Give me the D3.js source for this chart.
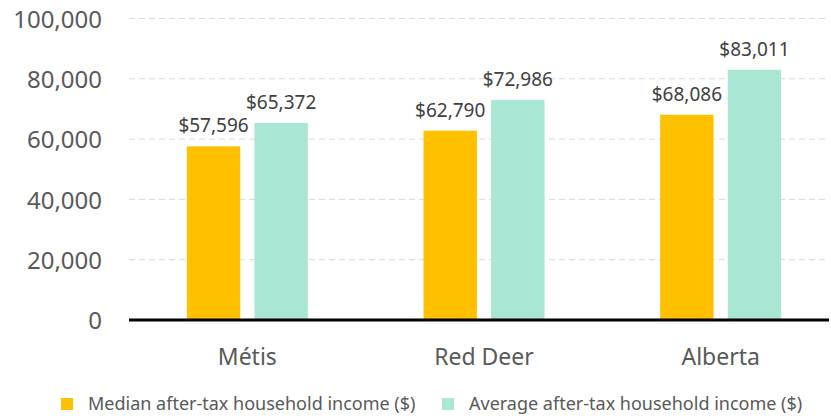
<!DOCTYPE html>
<html>
<head>
<meta charset="utf-8">
<script src="https://cdn.jsdelivr.net/npm/d3@7"></script>
<style>
  body { margin: 0; background: #fff; }
  text { font-family: "Noto Sans", "Open Sans", sans-serif; }
</style>
</head>
<body>
<div id="holder"></div>
<script>
const w = 831;
const h = 418;

// DATA
const categories = ["Métis", "Red Deer", "Alberta"];
const seriesNames = ["Median after-tax household income ($)", "Average after-tax household income ($)"];
const medianIncome = [57596, 62790, 68086];
const averageIncome = [65372, 72986, 83011];
const yTicks = [0, 20000, 40000, 60000, 80000, 100000];
const colors = ["#FFC000", "#A9E6D3"];

const svg = d3.select("#holder")
    .append("svg")
    .attr("width", w)
    .attr("height", h);

// SCALES
const xScale = d3.scaleBand()
    .domain(categories)
    .range([129, 839]);

const xSub = d3.scaleBand()
    .domain([0, 1])
    .range([0, 121])
    .paddingInner(0.21);

const yScale = d3.scaleLinear()
    .domain([0, 100000])
    .range([320, 18.5]);

// GRIDLINES
svg.append("g")
    .selectAll("line")
    .data(yTicks.filter(d => d > 0))
    .enter()
    .append("line")
    .attr("x1", 129)
    .attr("x2", 829)
    .attr("y1", d => yScale(d))
    .attr("y2", d => yScale(d))
    .attr("stroke", "#D9D9D9")
    .attr("stroke-width", 1)
    .attr("stroke-dasharray", "6,4");

// Y AXIS LABELS
const yAxis = d3.axisLeft(yScale)
    .tickValues(yTicks)
    .tickFormat(d3.format(","))
    .tickSize(0)
    .tickPadding(0);

const yG = svg.append("g")
    .attr("transform", "translate(102,0)")
    .call(yAxis);
yG.select(".domain").remove();
yG.selectAll("text")
    .attr("fill", "#595959")
    .style("font-size", "24px")
    .style("font-family", "'Noto Sans', sans-serif")
    .attr("dy", "0.36em");

// BARS
const groups = svg.selectAll(".group")
    .data(categories)
    .enter()
    .append("g")
    .attr("class", "group")
    .attr("transform", d => "translate(" + (xScale(d) + xScale.bandwidth() / 2 - 60.5) + ",0)");

const series = [medianIncome, averageIncome];

groups.each(function (cat, i) {
    const g = d3.select(this);
    series.forEach((vals, s) => {
        g.append("rect")
            .attr("x", xSub(s))
            .attr("y", yScale(vals[i]))
            .attr("width", xSub.bandwidth())
            .attr("height", yScale(0) - yScale(vals[i]))
            .attr("fill", colors[s]);
        g.append("text")
            .attr("x", xSub(s) + xSub.bandwidth() / 2)
            .attr("y", yScale(vals[i]) - 14)
            .attr("text-anchor", "middle")
            .attr("fill", "#404040")
            .style("font-size", "19px")
            .text("$" + d3.format(",")(vals[i]));
    });
});

// X AXIS
svg.append("line")
    .attr("x1", 129)
    .attr("x2", 829)
    .attr("y1", yScale(0))
    .attr("y2", yScale(0))
    .attr("stroke", "#000")
    .attr("stroke-width", 3);

svg.selectAll(".cat")
    .data(categories)
    .enter()
    .append("text")
    .attr("class", "cat")
    .attr("x", d => xScale(d) + xScale.bandwidth() / 2)
    .attr("y", 365)
    .attr("text-anchor", "middle")
    .attr("fill", "#595959")
    .style("font-size", "23px")
    .text(d => d);

// LEGEND
const legendX = [61, 442];
const legend = svg.selectAll(".legend")
    .data(seriesNames)
    .enter()
    .append("g")
    .attr("class", "legend")
    .attr("transform", (d, i) => "translate(" + legendX[i] + ",398)");

legend.append("rect")
    .attr("width", 12)
    .attr("height", 12)
    .attr("fill", (d, i) => colors[i]);

legend.append("text")
    .attr("x", 27)
    .attr("y", 12)
    .attr("fill", "#595959")
    .style("font-size", "18px")
    .text(d => d);
</script>
</body>
</html>
